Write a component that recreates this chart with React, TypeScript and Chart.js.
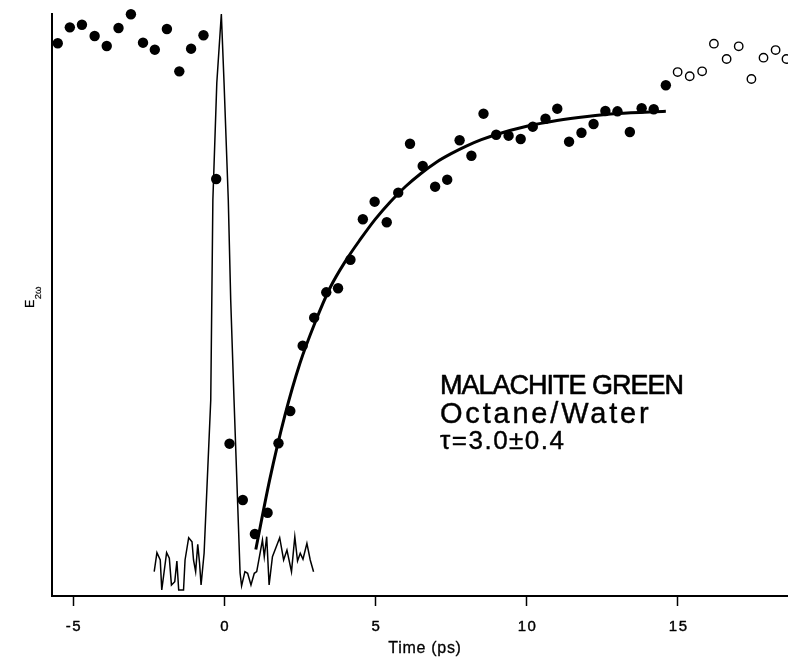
import React, { useEffect, useRef } from 'react';
import { Chart, registerables } from 'chart.js';

Chart.register(...registerables);

const FONT = '"Liberation Sans", Arial, Helvetica, sans-serif';

// Axis
const X_MIN = -5.7;
const X_MAX = 18.64;
const Y_MIN = 0;
const Y_MAX = 100;
const X_TICKS = [-5, 0, 5, 10, 15];
const X_TICK_LABELS = ['-5', '0', '5', '10', '15'];

// Filled circles (measured SHG field)
const filledT = [
  -5.51, -5.11, -4.71, -4.29, -3.89, -3.5, -3.09, -2.69, -2.3, -1.9, -1.49, -1.1, -0.69, -0.27,
  0.17, 0.61, 1.01, 1.43, 1.79, 2.18, 2.59, 2.97, 3.37, 3.76, 4.17, 4.58, 4.97, 5.37, 5.75,
  6.14, 6.56, 6.97, 7.37, 7.78, 8.17, 8.57, 8.99, 9.4, 9.8, 10.2, 10.62, 11.01, 11.4, 11.81,
  12.21, 12.6, 13.0, 13.41, 13.8, 14.2, 14.6,
];
const filledE = [
  94.97, 97.71, 98.16, 96.22, 94.5, 97.59, 99.95, 95.07, 93.87, 97.42, 90.15, 94.04, 96.34, 71.65,
  26.17, 16.49, 10.65, 14.31, 26.24, 31.79, 43.01, 47.82, 52.18, 52.87, 57.78, 64.73, 67.75, 64.21, 69.3,
  77.71, 73.88, 70.33, 71.53, 78.3, 75.65, 82.87, 79.26, 79.09, 78.52, 80.64, 82.01, 83.73, 78.06, 79.6,
  81.1, 83.33, 83.28, 79.73, 83.8, 83.63, 87.75,
];

// Open circles
const openT = [14.99, 15.39, 15.8, 16.19, 16.61, 17.01, 17.43, 17.83, 18.23, 18.59];
const openE = [90.03, 89.3, 90.15, 94.9, 92.27, 94.45, 88.83, 92.49, 93.81, 92.27];

// Fitted rise (tau = 3.0 ps)
const fitT = [1.04, 1.5, 2.0, 2.5, 3.0, 3.5, 4.0, 4.5, 5.0, 5.5, 6.0, 6.5, 7.0, 7.5, 8.0, 8.5, 9.0, 10.0, 11.0, 12.0, 13.0, 14.6];
const fitE = [8.0, 20.0, 31.0, 40.0, 47.0, 53.0, 57.5, 61.3, 64.8, 67.8, 70.4, 72.6, 74.5, 76.0, 77.3, 78.4, 79.3, 80.7, 81.7, 82.4, 82.9, 83.3];

// Instrument response (cross-correlation trace)
const irfT = [
  -2.32, -2.23, -2.12, -2.07, -1.91, -1.82, -1.75, -1.64, -1.57, -1.51, -1.35, -1.3, -1.18, -1.07,
  -1.02, -0.95, -0.88, -0.82, -0.77, -0.67, -0.45, -0.38, -0.25, -0.1, -0.01, 0.13, 0.21, 0.32,
  0.52, 0.57, 0.68, 0.77, 0.88, 0.99, 1.07, 1.26, 1.32, 1.4, 1.48, 1.59, 1.83, 1.96, 2.07, 2.22,
  2.33, 2.42, 2.51, 2.6, 2.73, 2.84, 2.95,
];
const irfE = [
  4.18, 7.44, 6.19, 1.03, 7.44, 6.48, 1.89, 2.46, 6.01, 1.03, 1.03, 6.19, 10.02, 9.33,
  6.19, 4.18, 8.88, 5.62, 1.89, 7.34, 33.68, 68.04, 88.14, 100, 88.14, 68.04, 50.86, 33.68,
  3.95, 1.72, 4.18, 3.9, 1.89, 3.9, 4.18, 9.62, 6.75, 10.19, 1.89, 6.75, 10.02, 6.19, 7.9, 4.18,
  10.19, 6.01, 7.34, 6.31, 9.05, 6.19, 4.18,
];

const ANNOTATION = ['MALACHITE GREEN', 'Octane/Water', '\u03c4=3.0\u00b10.4'];
const X_TITLE = 'Time (ps)';
const Y_TITLE_MAIN = 'E';
const Y_TITLE_SUB = '2\u03c9';

const pts = (xs: number[], ys: number[]) => xs.map((x, i) => ({ x, y: ys[i] }));

export default function App() {
  const ref = useRef<HTMLCanvasElement | null>(null);

  useEffect(() => {
    document.body.style.margin = '0';
    const canvas = ref.current;
    if (!canvas) return;

    const fillTextBold = (ctx: any, s: string, x: number, y: number, stroke: number) => {
      ctx.fillText(s, x, y);
      if (stroke > 0) {
        ctx.lineWidth = stroke;
        ctx.strokeStyle = '#000';
        ctx.strokeText(s, x, y);
      }
    };

    const textPlugin = {
      id: 'customText',
      afterDraw(chart: any) {
        const ctx = chart.ctx as any;
        const xs = chart.scales.x;
        const ca = chart.chartArea;
        ctx.save();
        ctx.fillStyle = '#000';
        ctx.textBaseline = 'alphabetic';
        ctx.lineJoin = 'round';

        // tick labels
        ctx.font = `15px ${FONT}`;
        ctx.letterSpacing = '1.5px';
        ctx.textAlign = 'center';
        X_TICKS.forEach((v, i) => {
          fillTextBold(ctx, X_TICK_LABELS[i], xs.getPixelForValue(v) + 0.75, 631, 0.4);
        });

        // x title
        ctx.font = `16px ${FONT}`;
        ctx.letterSpacing = '0.7px';
        fillTextBold(ctx, X_TITLE, (ca.left + ca.right) / 2 + 5, 653, 0.3);

        // y title (rotated, with subscript)
        ctx.save();
        ctx.translate(33.5, 308);
        ctx.rotate(-Math.PI / 2);
        ctx.textAlign = 'left';
        ctx.letterSpacing = '0px';
        ctx.font = `12.5px ${FONT}`;
        fillTextBold(ctx, Y_TITLE_MAIN, 0, 0, 0.3);
        const w = ctx.measureText(Y_TITLE_MAIN).width;
        ctx.font = `9.5px ${FONT}`;
        fillTextBold(ctx, Y_TITLE_SUB, w + 0.5, 7, 0.2);
        ctx.restore();

        // annotation
        ctx.textAlign = 'left';
        ctx.font = `27px ${FONT}`;
        ctx.letterSpacing = '-1px';
        fillTextBold(ctx, ANNOTATION[0], 440, 394, 0.6);
        ctx.font = `29px ${FONT}`;
        ctx.letterSpacing = '2.8px';
        fillTextBold(ctx, ANNOTATION[1], 440, 423, 0.4);
        ctx.font = `26px ${FONT}`;
        ctx.letterSpacing = '1.5px';
        fillTextBold(ctx, ANNOTATION[2], 440, 449, 0.4);

        ctx.restore();
      },
    };

    const chart = new Chart(canvas, {
      type: 'scatter',
      data: {
        datasets: [
          {
            label: 'filled',
            data: pts(filledT, filledE),
            pointRadius: 5.2,
            pointBackgroundColor: '#000',
            pointBorderWidth: 0,
            showLine: false,
            clip: false,
          },
          {
            label: 'open',
            data: pts(openT, openE),
            pointRadius: 4.2,
            pointBackgroundColor: 'rgba(255,255,255,0)',
            pointBorderColor: '#000',
            pointBorderWidth: 1.4,
            showLine: false,
            clip: false,
          },
          {
            label: 'fit',
            data: pts(fitT, fitE),
            showLine: true,
            pointRadius: 0,
            borderColor: '#000',
            borderWidth: 3,
            cubicInterpolationMode: 'monotone',
            fill: false,
          },
          {
            label: 'irf',
            data: pts(irfT, irfE),
            showLine: true,
            pointRadius: 0,
            borderColor: '#000',
            borderWidth: 1.5,
            tension: 0,
            fill: false,
            clip: false,
          },
        ],
      } as any,
      options: {
        animation: false,
        responsive: false,
        devicePixelRatio: 1,
        layout: { autoPadding: false, padding: { top: 14, right: 0, left: 0, bottom: 0 } },
        plugins: {
          legend: { display: false },
          tooltip: { enabled: false },
          title: { display: false },
        },
        scales: {
          x: {
            type: 'linear',
            min: X_MIN,
            max: X_MAX,
            afterBuildTicks: (s: any) => {
              s.ticks = X_TICKS.map((v) => ({ value: v }));
            },
            afterFit: (s: any) => {
              s.height = 62;
              s.paddingLeft = 0;
              s.paddingRight = 0;
            },
            ticks: { display: false },
            grid: {
              display: true,
              drawOnChartArea: false,
              drawTicks: true,
              tickLength: 10,
              tickColor: '#000',
              tickWidth: 1.5,
            },
            border: { display: true, color: '#000', width: 2 },
            title: { display: false },
          },
          y: {
            type: 'linear',
            min: Y_MIN,
            max: Y_MAX,
            afterFit: (s: any) => {
              s.width = 52;
              s.paddingTop = 0;
              s.paddingBottom = 0;
            },
            ticks: { display: false },
            grid: { display: false },
            border: { display: true, color: '#000', width: 2 },
            title: { display: false },
          },
        },
      } as any,
      plugins: [textPlugin],
    });

    return () => {
      chart.destroy();
    };
  }, []);

  return (
    <div style={{ width: 788, height: 658, background: '#fff' }}>
      <canvas ref={ref} width={788} height={658} style={{ display: 'block' }} />
    </div>
  );
}
